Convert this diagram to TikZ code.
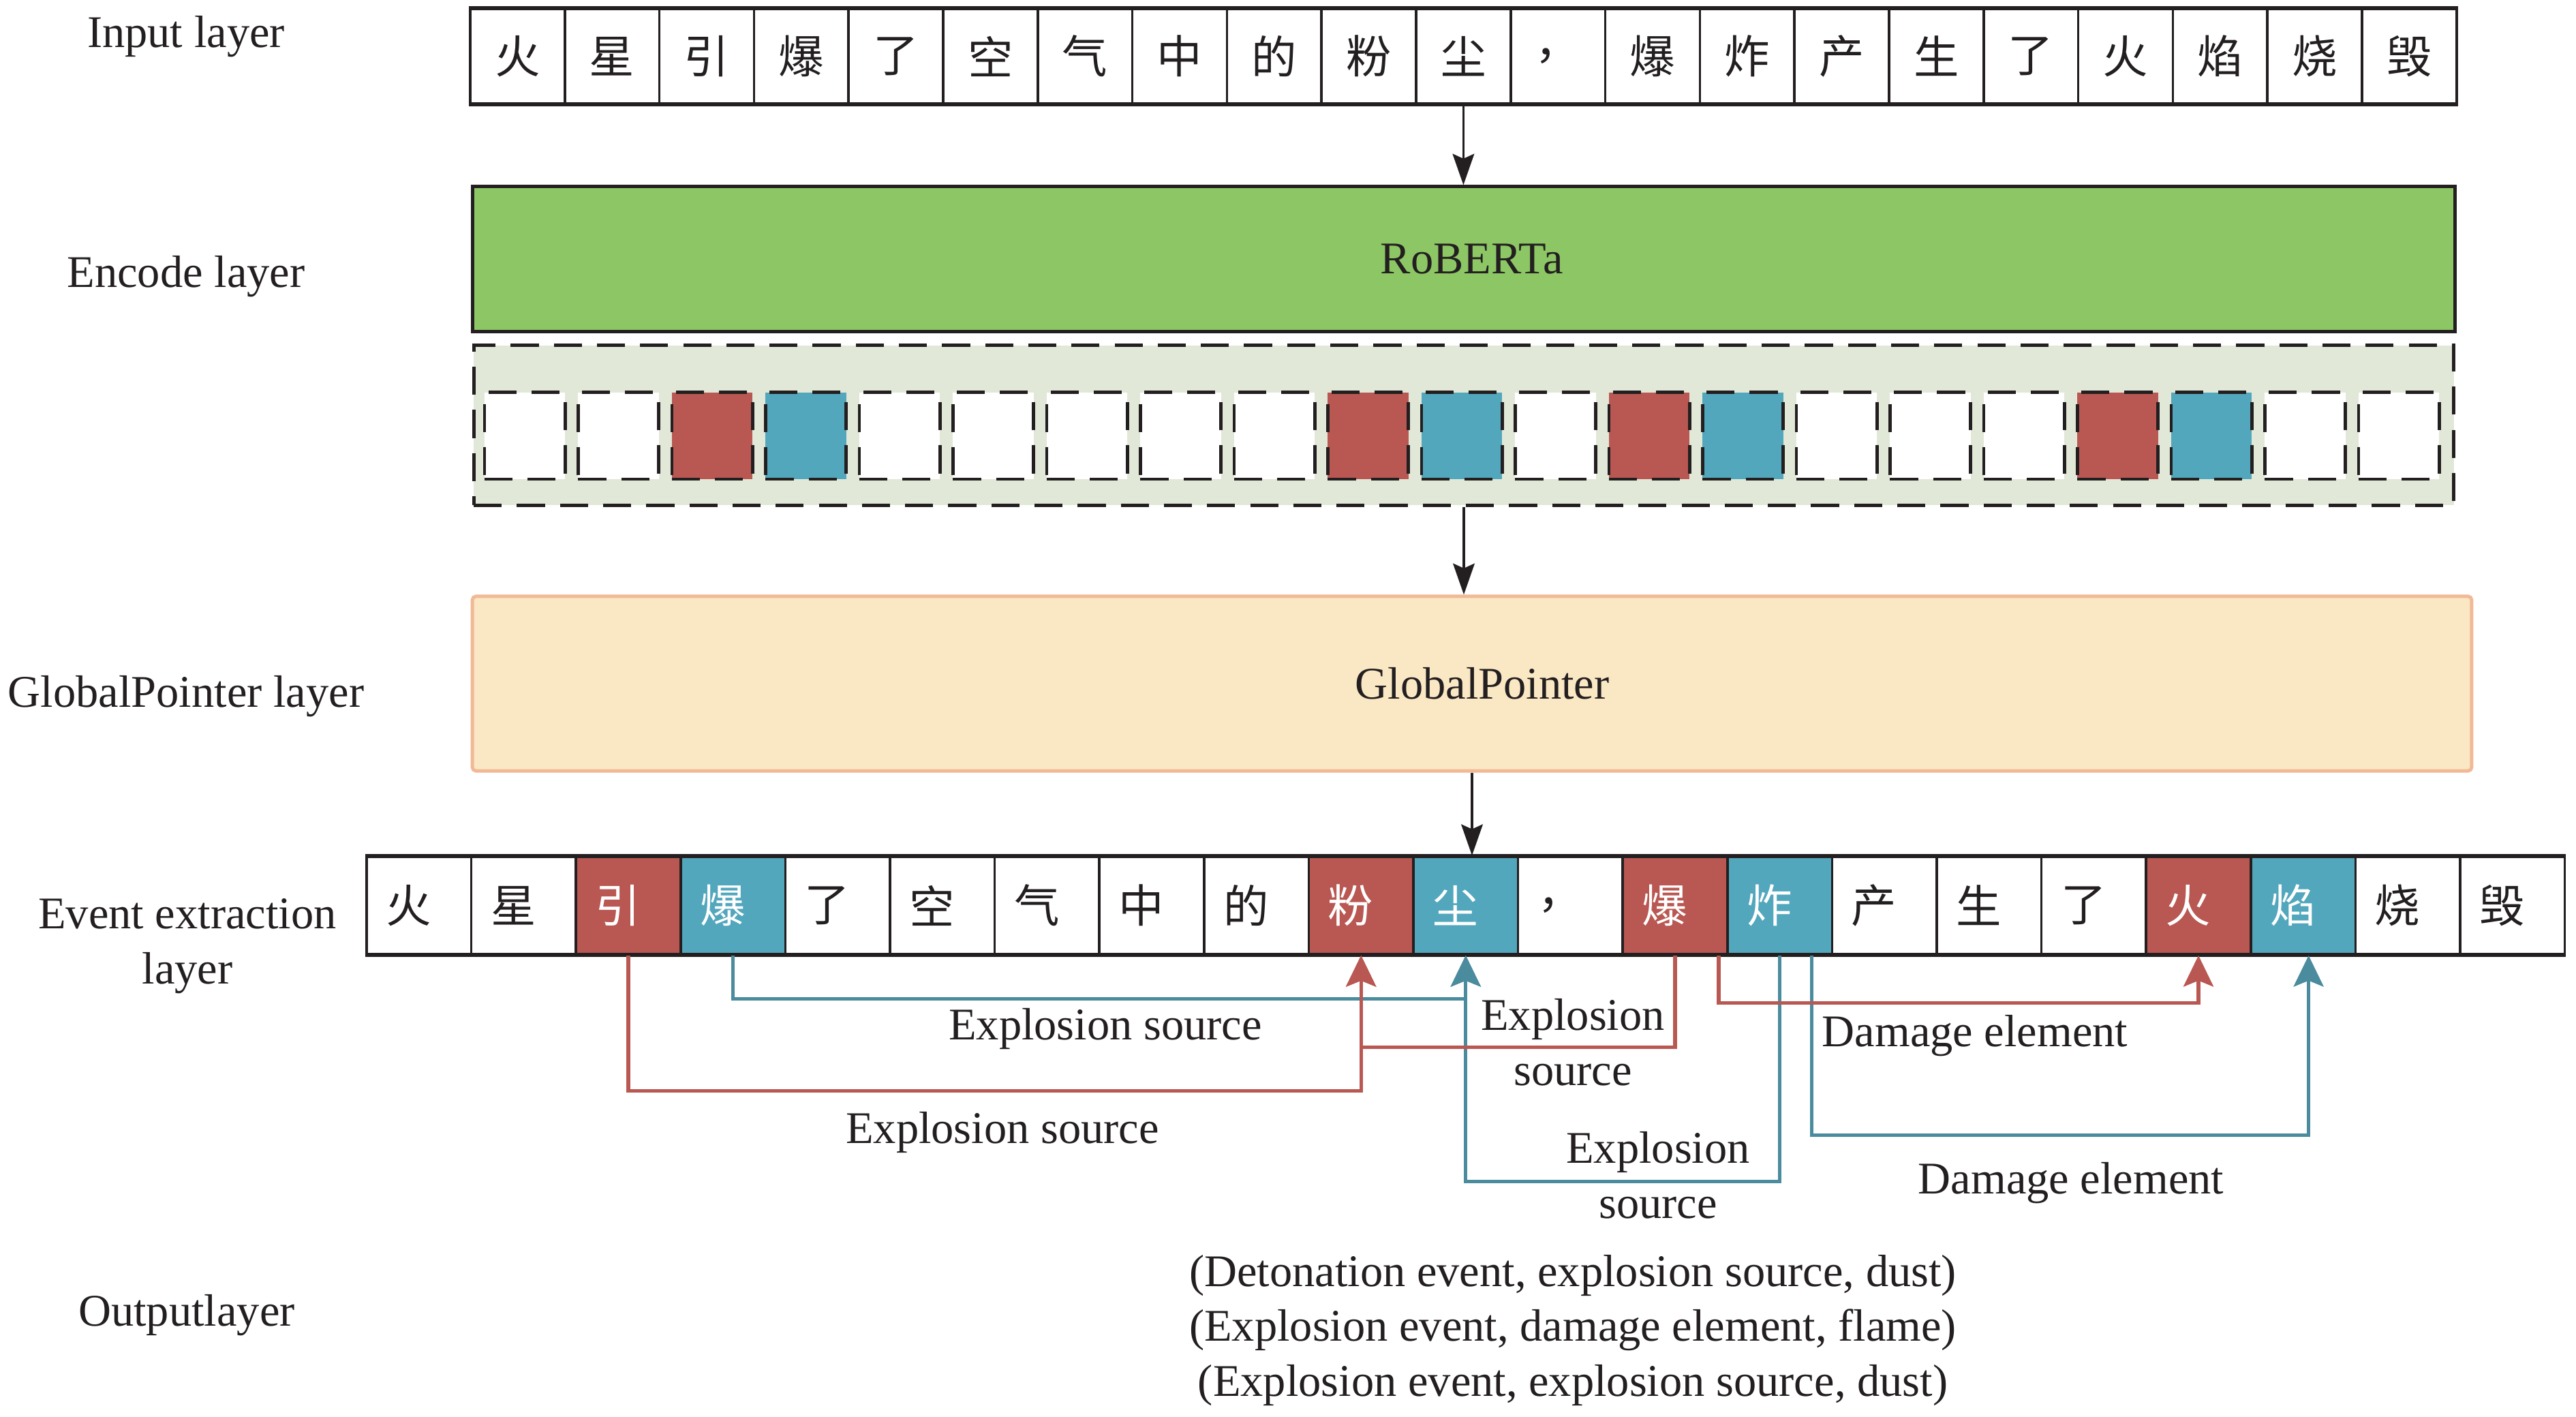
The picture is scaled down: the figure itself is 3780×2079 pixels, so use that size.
\documentclass[tikz,border=0pt]{standalone}
\usepackage{fontspec}
\setmainfont{Liberation Serif}
\newfontfamily\cjkfont{Noto Sans CJK SC}
\usetikzlibrary{arrows.meta}
\definecolor{txtc}{RGB}{35,31,32}
\definecolor{robg}{RGB}{141,199,101}
\definecolor{gpfill}{RGB}{250,231,196}
\definecolor{gpdraw}{RGB}{241,185,150}
\definecolor{encbg}{RGB}{226,232,216}
\definecolor{cred}{RGB}{185,87,82}
\definecolor{cblue}{RGB}{82,167,189}
\definecolor{lred}{RGB}{185,88,83}
\definecolor{lblue}{RGB}{74,139,157}
\newcommand{\fsz}{\fontsize{18.9}{22.76}\selectfont}
\begin{document}
\begin{tikzpicture}[x=0.01cm,y=-0.01cm,font=\fsz,text=txtc,
  lbl/.style={anchor=base,inner sep=0pt,font=\fsz},
  incell/.style={draw=txtc,line width=1pt,minimum width=1.388cm,minimum height=1.39cm,inner sep=0pt,font=\cjkfont\fsz},
  evcell/.style={draw=txtc,line width=1pt,minimum width=1.536cm,minimum height=1.43cm,inner sep=0pt,font=\cjkfont\fsz},
  enccell/.style={draw=txtc,line width=1.4pt,dash pattern=on 11.7pt off 6.3pt,minimum width=1.18cm,minimum height=1.27cm,inner sep=0pt},
  nohl/.style={fill=white},
  hlred/.style={fill=cred,text=white},
  hlblue/.style={fill=cblue,text=white},
  layerarrow/.style={draw=txtc,line width=1pt,-{Stealth[length=13pt,width=9pt,inset=2pt]}},
  redlink/.style={draw=lred,line width=1.5pt,-{Stealth[length=13pt,width=12.5pt,inset=2.5pt]}},
  bluelink/.style={draw=lblue,line width=1.5pt,-{Stealth[length=13pt,width=12.5pt,inset=2.5pt]}},
]
\useasboundingbox (0,0) rectangle (3780,2079);

% layer labels
\node[lbl] (labin) at (273,70) {Input layer};
\node[lbl] (labenc) at (273,422) {Encode layer};
\node[lbl] (labgp) at (273,1037) {GlobalPointer layer};
\node[lbl,align=center] (labev) at (275,1443) {Event extraction\\layer};
\node[lbl] (labout) at (274,1945) {Outputlayer};

% input layer
\foreach \c [count=\i from 0] in {火,星,引,爆,了,空,气,中,的,粉,尘,，,爆,炸,产,生,了,火,焰,烧,毁} {
  \node[incell] (in\i) at ({759.4+138.8*\i},82.5) {\c};
}
\draw[txtc,line width=1.4pt] (in0.north west) -- (in20.north east);
\draw[txtc,line width=1.4pt] (in0.south west) -- (in20.south east);

% encode layer
\node[draw=txtc,fill=robg,line width=1.4pt,minimum width=29.08cm,minimum height=2.12cm,inner sep=0pt] (rob) at (2148,380) {\hspace*{0.24cm}RoBERTa};
\node[draw=txtc,fill=encbg,line width=1.4pt,dash pattern=on 11.7pt off 6.3pt,minimum width=29.04cm,minimum height=2.34cm,inner sep=0pt] (enc) at (2148,624) {};
\foreach \s [count=\i from 0] in {nohl,nohl,hlred,hlblue,nohl,nohl,nohl,nohl,nohl,hlred,hlblue,nohl,hlred,hlblue,nohl,nohl,nohl,hlred,hlblue,nohl,nohl} {
  \node[enccell,\s] (enc\i) at ({770+137.5*\i},639.5) {};
}

% globalpointer
\node[draw=gpdraw,fill=gpfill,line width=1.4pt,rounded corners=1.5pt,minimum width=29.32cm,minimum height=2.56cm,inner sep=0pt] (gp) at (2160,1003) {\hspace*{0.3cm}GlobalPointer};

% event extraction layer
\foreach \c/\s [count=\i from 0] in {火/nohl,星/nohl,引/hlred,爆/hlblue,了/nohl,空/nohl,气/nohl,中/nohl,的/nohl,粉/hlred,尘/hlblue,，/nohl,爆/hlred,炸/hlblue,产/nohl,生/nohl,了/nohl,火/hlred,焰/hlblue,烧/nohl,毁/nohl} {
  \node[evcell,\s] (ev\i) at ({614.8+153.6*\i},1328.5) {\c\hspace*{0.3cm}};
}
\draw[txtc,line width=1.4pt] (ev0.north west) -- (ev20.north east);
\draw[txtc,line width=1.4pt] (ev0.south west) -- (ev20.south east);

% layer arrows
\draw[layerarrow] (in10.south) -- (rob.north -| in10.south);
\draw[layerarrow] (enc.south) -- (enc.south |- gp.north);
\draw[layerarrow] (gp.south) -- (gp.south |- ev10.north);

% links
\draw[bluelink] (ev3.south) -- ++(0,64) -| (ev10.south);
\draw[bluelink] (ev13.south) -- ++(0,332) -| (ev10.south);
\draw[bluelink] ([xshift=0.47cm]ev13.south) -- ++(0,264) -| ([xshift=0.08cm]ev18.south);
\draw[redlink] (ev2.south) -- ++(0,199) -| (ev9.south);
\draw[redlink] (ev12.south) -- ++(0,135) -| (ev9.south);
\draw[redlink] ([xshift=0.64cm]ev12.south) -- ++(0,70) -| (ev17.south);

% link labels
\node[lbl] (t1) at (1622,1525) {Explosion source};
\node[lbl] (t2) at (1471,1677) {Explosion source};
\node[lbl,align=center] (t3) at (2308,1592) {Explosion\\source};
\node[lbl,align=center] (t4) at (2433,1787) {Explosion\\source};
\node[lbl] (t5) at (2898,1535) {Damage element};
\node[lbl] (t6) at (3039,1751) {Damage element};

% output
\node[lbl,align=center] (out) at (2308,2048) {(Detonation event, explosion source, dust)\\(Explosion event, damage element, flame)\\(Explosion event, explosion source, dust)};
\end{tikzpicture}
\end{document}
